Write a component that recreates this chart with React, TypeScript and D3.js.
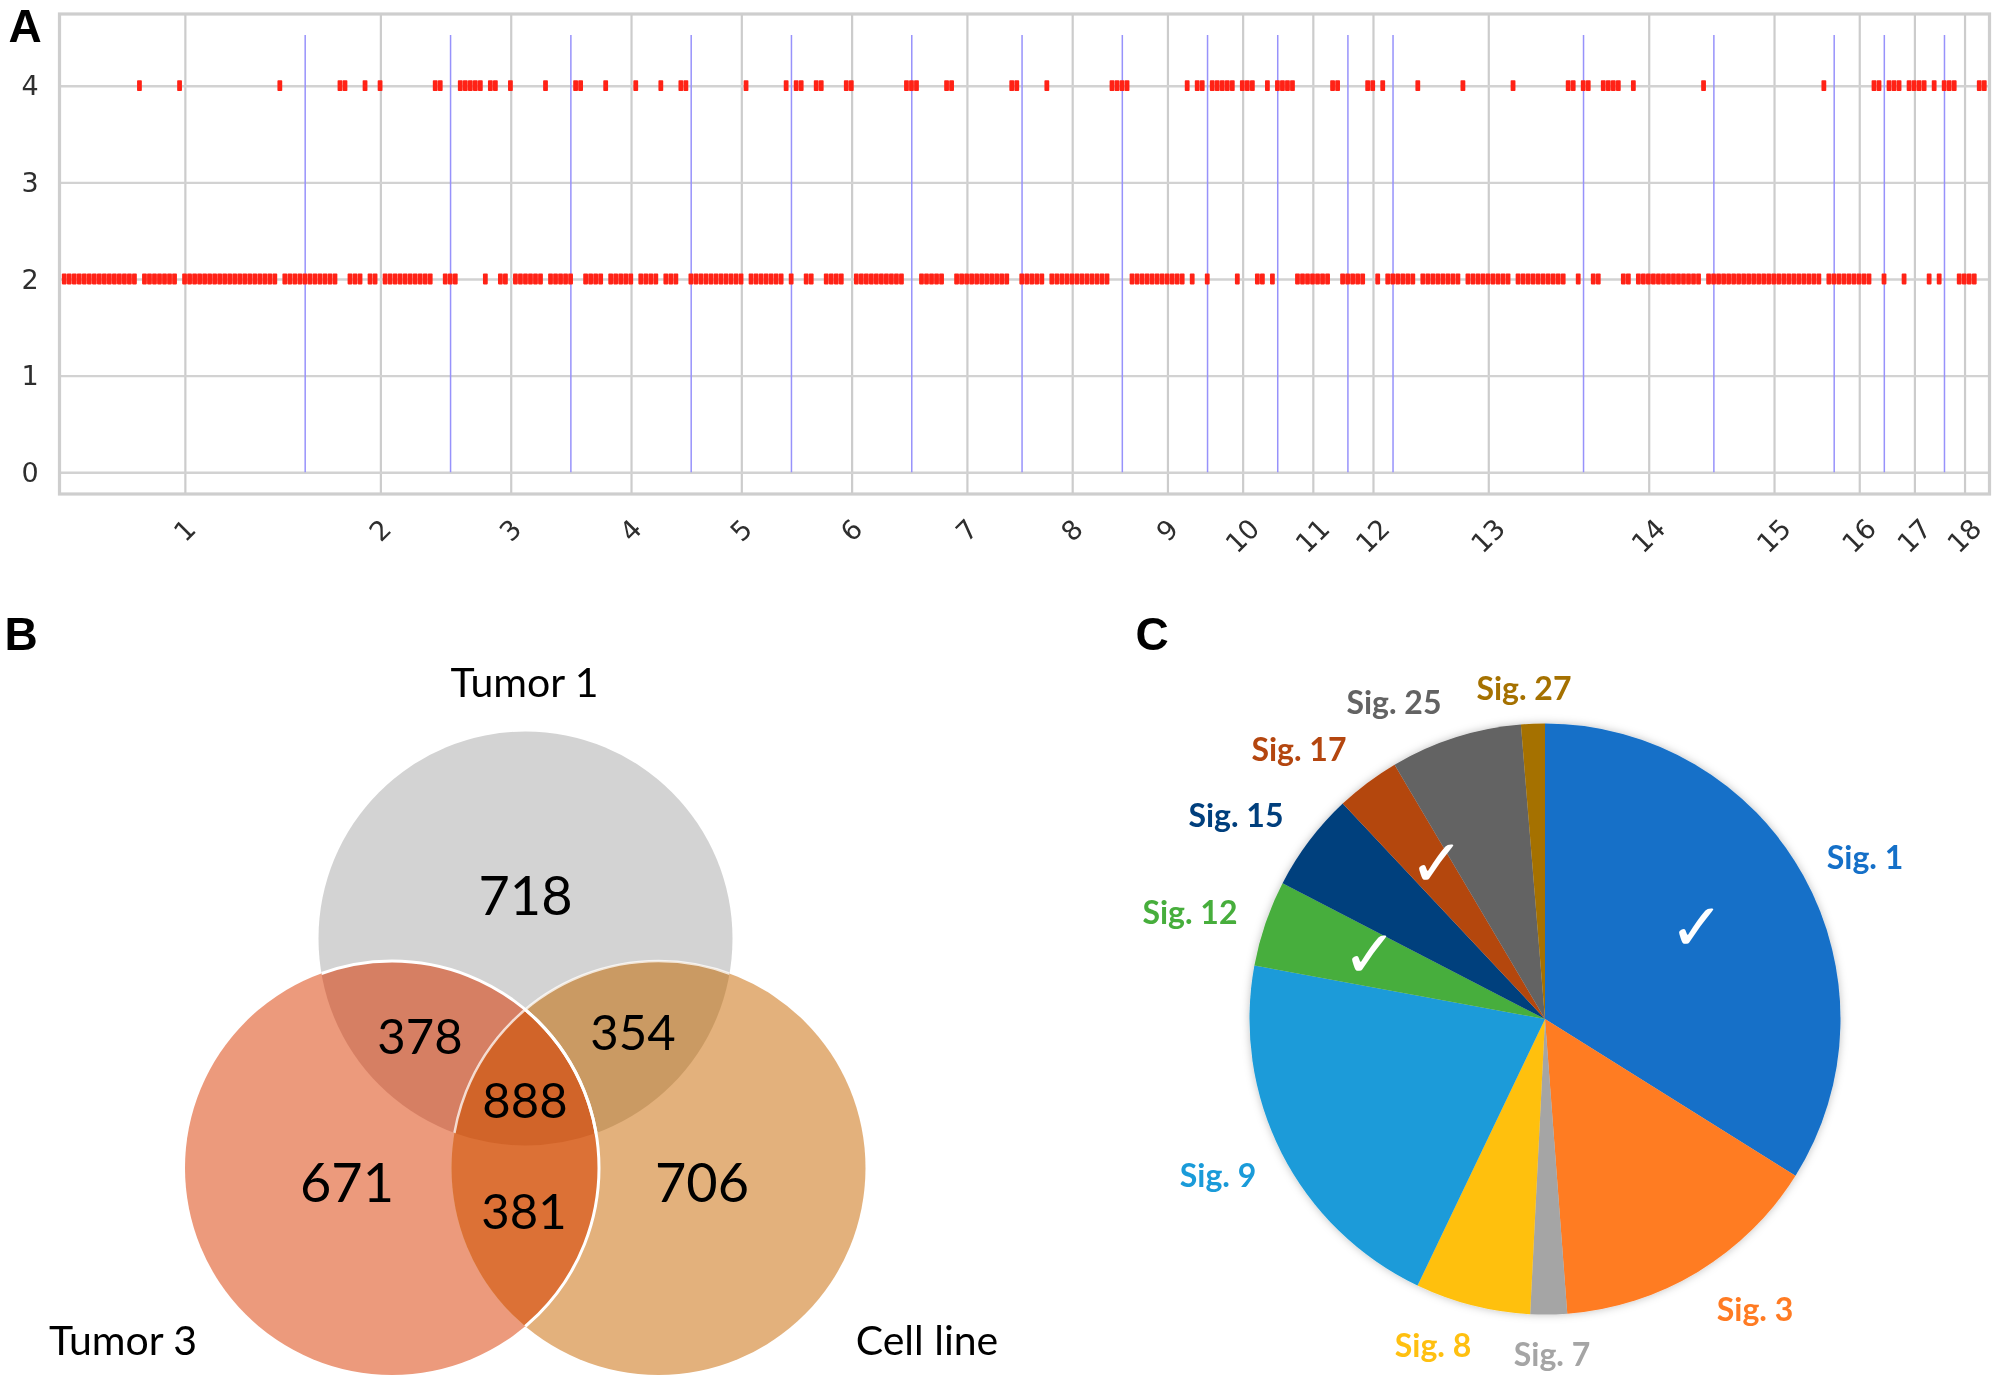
import React, { useEffect, useRef } from "react";
import * as d3 from "d3";

// Panel A: bins, as [first, last] runs for each copy number
const copy2Runs: [number, number][] = [
  [0, 14], [16, 22], [24, 42], [44, 54], [57, 59], [61, 62], [64, 73], [76, 78], [84, 84],
  [87, 88], [90, 95], [97, 101], [104, 107], [109, 113], [115, 118], [120, 122], [125, 135],
  [137, 143], [145, 145], [148, 149], [152, 155], [158, 167], [171, 175], [178, 188], [191, 195],
  [197, 208], [213, 223], [225, 225], [228, 228], [234, 234], [238, 239], [241, 241], [246, 252],
  [255, 259], [262, 262], [264, 269], [271, 278], [280, 288], [290, 299], [302, 302], [305, 306],
  [311, 312], [314, 326], [328, 350], [352, 360], [363, 363], [367, 367], [372, 372], [374, 374],
  [378, 381],
];
const copy4Runs: [number, number][] = [
  [15, 15], [23, 23], [43, 43], [55, 56], [60, 60], [63, 63], [74, 75], [79, 83], [85, 86],
  [89, 89], [96, 96], [102, 103], [108, 108], [114, 114], [119, 119], [123, 124], [136, 136],
  [144, 144], [146, 147], [150, 151], [156, 157], [168, 170], [176, 177], [189, 190], [196, 196],
  [209, 212], [224, 224], [226, 227], [229, 233], [235, 237], [240, 240], [242, 245], [253, 254],
  [260, 261], [263, 263], [270, 270], [279, 279], [289, 289], [300, 301], [303, 304], [307, 310],
  [313, 313], [327, 327], [351, 351], [361, 362], [364, 366], [368, 371], [373, 373], [375, 377],
  [382, 383],
];
const chromTicks = [24, 63, 89, 113, 135, 157, 180, 201, 220, 235, 249, 261, 284, 316, 341, 358, 369, 379];
const chromLabels = ["1", "2", "3", "4", "5", "6", "7", "8", "9", "10", "11", "12", "13", "14", "15", "16", "17", "18"];
const boundaries = [48, 77, 101, 125, 145, 169, 191, 211, 228, 242, 256, 265, 303, 329, 353, 363, 375];
const copyTicks = [0, 1, 2, 3, 4];

// Panel B
const vennCounts = ["718", "378", "354", "888", "671", "706", "381"];
const vennCountX = [525.5, 420, 633, 525, 347, 702, 524];
const vennCountY = [896, 1036, 1032, 1100, 1183, 1183, 1211];
const vennCountSize = [54, 49, 49, 49, 54, 54, 49];

// Panel C
const sigNames = ["Sig. 1", "Sig. 3", "Sig. 7", "Sig. 8", "Sig. 9", "Sig. 12", "Sig. 15", "Sig. 17", "Sig. 25", "Sig. 27"];
const sigValues = [33.9, 14.9, 2.0, 6.3, 20.8, 4.7, 5.4, 3.5, 7.2, 1.3];
const sigColors = ["#1570c8", "#ff7b23", "#a5a5a5", "#ffc010", "#1a9bd9", "#47ae3c", "#003f7d", "#b4460f", "#636363", "#a57100"];
const sigLabelX = [1865, 1755, 1552, 1433, 1218, 1190, 1236, 1299, 1394, 1524];
const sigLabelY = [857, 1309, 1354, 1345, 1175, 912, 815, 749, 702, 688];

const bins = (runs: [number, number][]) => runs.flatMap(([a, b]) => d3.range(a, b + 1));

const App: React.FC = () => {
  const svgRef = useRef<SVGSVGElement | null>(null);

  useEffect(() => {
    const svg = d3.select(svgRef.current);
    svg.selectAll("*").remove();
    const sans = "'DejaVu Sans'";
    const label = "Lato";
    const defs = svg.append("defs");

    // the source panel is a slightly soft bitmap
    defs.append("filter").attr("id", "soft").append("feGaussianBlur").attr("stdDeviation", 0.5);

    // ---- Panel A
    const x = d3.scaleLinear().domain([0, 384]).range([64.55, 1989.6]);
    const y = d3.scaleLinear().domain([0, 4]).range([472.3, 85.7]);
    const frame = { left: 59.5, right: 1989.5, top: 14, bottom: 494 };
    const a = svg.append("g").attr("filter", "url(#soft)");

    const xGrid = a
      .append("g")
      .attr("transform", `translate(0,${frame.bottom})`)
      .call(d3.axisBottom(x).tickValues(chromTicks).tickSize(-(frame.bottom - frame.top)).tickFormat(() => ""));
    xGrid.select(".domain").remove();
    xGrid.selectAll("line").attr("stroke", "#cccccc").attr("stroke-width", 2.2);

    const yGrid = a
      .append("g")
      .attr("transform", `translate(${frame.left},0)`)
      .call(d3.axisLeft(y).tickValues(copyTicks).tickSize(-(frame.right - frame.left)).tickFormat(() => ""));
    yGrid.select(".domain").remove();
    yGrid.selectAll("line").attr("stroke", "#d2d2d2").attr("stroke-width", 2.4);

    a.append("rect")
      .attr("x", frame.left)
      .attr("y", frame.top)
      .attr("width", frame.right - frame.left)
      .attr("height", frame.bottom - frame.top)
      .attr("fill", "none")
      .attr("stroke", "#cecece")
      .attr("stroke-width", 3.2);

    a.selectAll(".boundary")
      .data(boundaries)
      .join("line")
      .attr("x1", (d) => x(d))
      .attr("x2", (d) => x(d))
      .attr("y1", 35)
      .attr("y2", y(0))
      .attr("stroke", "#9792fb")
      .attr("stroke-width", 1.5);

    const drawBins = (runs: [number, number][], level: number) => {
      a.append("g")
        .selectAll("rect")
        .data(bins(runs))
        .join("rect")
        .attr("x", (d) => x(d) - 2.7)
        .attr("y", y(level) - 5.4)
        .attr("width", 4.8)
        .attr("height", 10.8)
        .attr("rx", 0.8)
        .attr("fill", "#ff2418");
    };
    drawBins(copy2Runs, 2);
    drawBins(copy4Runs, 4);

    a.selectAll(".ylab")
      .data(copyTicks)
      .join("text")
      .attr("x", 30)
      .attr("y", (d) => y(d))
      .attr("dy", "0.36em")
      .attr("text-anchor", "middle")
      .attr("font-family", sans)
      .attr("font-size", 27)
      .attr("fill", "#2e2e2e")
      .text((d) => d);

    a.selectAll(".xlab")
      .data(chromTicks)
      .join("text")
      .attr("text-anchor", "middle")
      .attr("dy", "0.36em")
      .attr("font-family", sans)
      .attr("font-size", 27)
      .attr("fill", "#2e2e2e")
      .attr("transform", (d, i) => `translate(${x(d) - 0.5},${530 + (chromLabels[i].length - 1) * 5.5}) rotate(-45)`)
      .text((d, i) => chromLabels[i]);

    // ---- Panel letters
    svg
      .selectAll(".letter")
      .data([
        ["A", 25, 42],
        ["B", 21, 650],
        ["C", 1152, 650],
      ])
      .join("text")
      .attr("x", (d) => d[1])
      .attr("y", (d) => d[2])
      .attr("text-anchor", "middle")
      .attr("font-family", "'Liberation Sans'")
      .attr("font-weight", 700)
      .attr("font-size", 46)
      .text((d) => d[0]);

    // ---- Panel B
    const r = 207;
    const top = { cx: 525.5, cy: 938.5 };
    const left = { cx: 392, cy: 1168 };
    const right = { cx: 658.5, cy: 1168 };
    const clip = (id: string, c: { cx: number; cy: number }, parent?: string) => {
      const cp = defs.append("clipPath").attr("id", id);
      if (parent) cp.attr("clip-path", `url(#${parent})`);
      cp.append("circle").attr("cx", c.cx).attr("cy", c.cy).attr("r", r);
    };
    clip("clipTop", top);
    clip("clipLeft", left);
    clip("clipRight", right);
    clip("clipTopLeft", left, "clipTop");

    const b = svg.append("g");
    const disc = (c: { cx: number; cy: number }, fill: string, clipId?: string) => {
      const el = b.append("circle").attr("cx", c.cx).attr("cy", c.cy).attr("r", r).attr("fill", fill);
      if (clipId) el.attr("clip-path", `url(#${clipId})`);
      return el;
    };
    disc(top, "#d3d3d3");
    disc(left, "#ec9a7c");
    disc(right, "#e3b17c");
    disc(left, "#d67f63", "clipTop");
    disc(right, "#ca9a63", "clipTop");
    disc(right, "#dc7136", "clipLeft");
    disc(right, "#d16429", "clipTopLeft");

    // white edges where the circles overlap
    disc(right, "none", "clipTop").attr("stroke", "#fff").attr("stroke-width", 2.5).attr("stroke-opacity", 0.75);
    disc(left, "none", "clipTop").attr("stroke", "#fff").attr("stroke-width", 3);
    disc(left, "none", "clipRight").attr("stroke", "#fff").attr("stroke-width", 3);

    b.selectAll(".count")
      .data(vennCounts)
      .join("text")
      .attr("x", (d, i) => vennCountX[i])
      .attr("y", (d, i) => vennCountY[i])
      .attr("dy", "0.36em")
      .attr("text-anchor", "middle")
      .attr("font-family", label)
      .attr("font-size", (d, i) => vennCountSize[i])
      .attr("fill", "#000")
      .text((d) => d);

    b.selectAll(".setname")
      .data([
        ["Tumor 1", 524.5, 682],
        ["Tumor 3", 123, 1340],
        ["Cell line", 927, 1340],
      ])
      .join("text")
      .attr("x", (d) => d[1])
      .attr("y", (d) => d[2])
      .attr("dy", "0.36em")
      .attr("text-anchor", "middle")
      .attr("font-family", label)
      .attr("font-size", 41)
      .attr("fill", "#000")
      .text((d) => d[0]);

    // ---- Panel C
    const pieX = 1545;
    const pieY = 1019;
    const pieR = 295.5;
    const shadow = defs.append("filter").attr("id", "pieShadow").attr("x", "-10%").attr("y", "-10%").attr("width", "120%").attr("height", "120%");
    shadow.append("feDropShadow").attr("dx", 0).attr("dy", 0).attr("stdDeviation", 4).attr("flood-color", "#000").attr("flood-opacity", 0.25);

    const pie = d3.pie<number>().sort(null)(sigValues);
    const arc = d3.arc<d3.PieArcDatum<number>>().innerRadius(0).outerRadius(pieR);
    const c = svg.append("g");
    c.append("g")
      .attr("transform", `translate(${pieX},${pieY})`)
      .attr("filter", "url(#pieShadow)")
      .selectAll("path")
      .data(pie)
      .join("path")
      .attr("d", arc)
      .attr("fill", (d, i) => sigColors[i]);

    c.selectAll(".siglab")
      .data(sigNames)
      .join("text")
      .attr("x", (d, i) => sigLabelX[i])
      .attr("y", (d, i) => sigLabelY[i])
      .attr("dy", "0.36em")
      .attr("text-anchor", "middle")
      .attr("font-family", label)
      .attr("font-weight", 700)
      .attr("font-size", 32)
      .attr("fill", (d, i) => sigColors[i])
      .text((d) => d);

    c.selectAll(".check")
      .data([
        [1697, 926],
        [1437, 862],
        [1370, 953],
      ])
      .join("text")
      .attr("x", (d) => d[0])
      .attr("y", (d) => d[1])
      .attr("dy", "0.36em")
      .attr("text-anchor", "middle")
      .attr("font-family", sans)
      .attr("font-size", 66)
      .attr("fill", "#fff")
      .text("\u2713");
  }, []);

  return <svg ref={svgRef} width={2000} height={1385} style={{ position: "absolute", left: 0, top: 0, background: "#fff" }} />;
};

export default App;
